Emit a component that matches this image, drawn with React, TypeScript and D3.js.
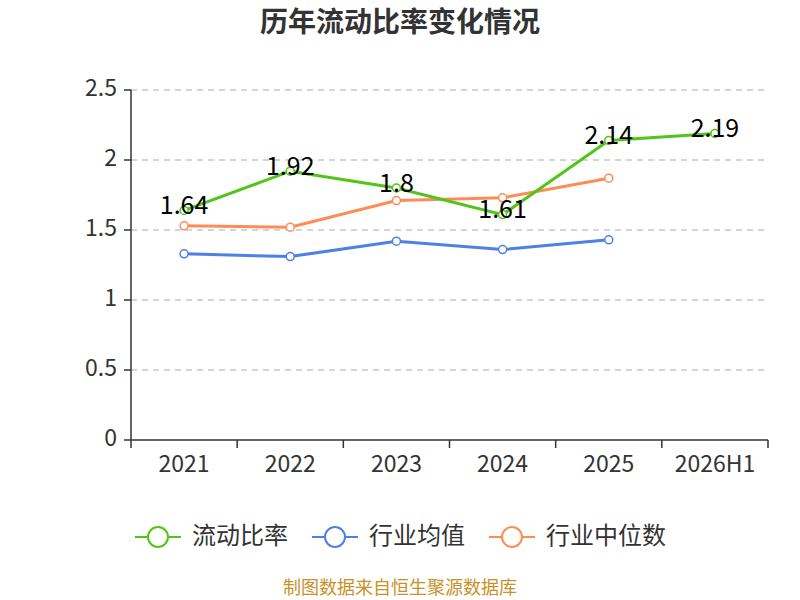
import React from "react";
import * as d3 from "d3";

const categories = ["2021", "2022", "2023", "2024", "2025", "2026H1"];
const ratio = [1.64, 1.92, 1.8, 1.61, 2.14, 2.19];
const industryMean = [1.33, 1.31, 1.42, 1.36, 1.43];
const industryMedian = [1.53, 1.52, 1.71, 1.73, 1.87];
const yTicks = [0, 0.5, 1, 1.5, 2, 2.5];

const seriesNames = ["流动比率", "行业均值", "行业中位数"];
const colors = ["#52c41a", "#4e80e6", "#ff8c55"];

const font = "'Noto Sans CJK SC', 'Noto Sans', sans-serif";

export default function App() {
  const width = 800;
  const height = 600;
  const margin = { top: 90, right: 32, bottom: 160, left: 131 };

  const x = d3
    .scaleBand<string>()
    .domain(categories)
    .range([margin.left, width - margin.right]);
  const y = d3
    .scaleLinear()
    .domain([0, 2.5])
    .range([height - margin.bottom, margin.top]);

  const line = d3
    .line<number>()
    .x((_, i) => (x(categories[i]) as number) + x.bandwidth() / 2)
    .y((d) => y(d));

  const allSeries = [ratio, industryMean, industryMedian];
  const legendX = [135, 312, 489];

  return (
    <svg
      width={width}
      height={height}
      style={{ position: "absolute", left: 0, top: 0, fontFamily: font }}
    >
      <rect width={width} height={height} fill="#fff" />
      <text
        x={width / 2}
        y={24}
        textAnchor="middle"
        dominantBaseline="middle"
        fontSize={28}
        fontWeight="bold"
        fill="#333"
      >
        历年流动比率变化情况
      </text>

      {yTicks.map((t) => (
        <g key={t}>
          {t > 0 && (
            <line
              x1={margin.left}
              x2={width - margin.right}
              y1={y(t)}
              y2={y(t)}
              stroke="#c8c8c8"
              strokeDasharray="6,5"
              strokeWidth={1.5}
            />
          )}
          <line
            x1={margin.left - 7}
            x2={margin.left}
            y1={y(t)}
            y2={y(t)}
            stroke="#333"
            strokeWidth={1.5}
          />
          <text
            x={margin.left - 14}
            y={y(t)}
            textAnchor="end"
            dominantBaseline="middle"
            fontSize={23}
            fill="#333"
          >
            {t}
          </text>
        </g>
      ))}

      <line
        x1={margin.left}
        x2={margin.left}
        y1={margin.top}
        y2={y(0)}
        stroke="#333"
        strokeWidth={1.5}
      />
      <line
        x1={margin.left}
        x2={width - margin.right}
        y1={y(0)}
        y2={y(0)}
        stroke="#333"
        strokeWidth={1.5}
      />
      {categories.map((c, i) => (
        <g key={c}>
          <line
            x1={x(c) as number}
            x2={x(c) as number}
            y1={y(0)}
            y2={y(0) + 8}
            stroke="#333"
            strokeWidth={1.5}
          />
          {i === categories.length - 1 && (
            <line
              x1={(x(c) as number) + x.bandwidth()}
              x2={(x(c) as number) + x.bandwidth()}
              y1={y(0)}
              y2={y(0) + 8}
              stroke="#333"
              strokeWidth={1.5}
            />
          )}
          <text
            x={(x(c) as number) + x.bandwidth() / 2}
            y={y(0) + 26}
            textAnchor="middle"
            dominantBaseline="middle"
            fontSize={23}
            fill="#333"
          >
            {c}
          </text>
        </g>
      ))}

      {[industryMean, industryMedian, ratio].map((s) => {
        const idx = allSeries.indexOf(s);
        return (
          <g key={idx}>
            <path
              d={line(s) as string}
              fill="none"
              stroke={colors[idx]}
              strokeWidth={3}
            />
            {s.map((v, i) => (
              <circle
                key={i}
                cx={(x(categories[i]) as number) + x.bandwidth() / 2}
                cy={y(v)}
                r={4}
                fill="#fff"
                stroke={colors[idx]}
                strokeWidth={1.5}
              />
            ))}
          </g>
        );
      })}

      {ratio.map((v, i) => (
        <text
          key={i}
          x={(x(categories[i]) as number) + x.bandwidth() / 2}
          y={y(v) - 3}
          textAnchor="middle"
          dominantBaseline="middle"
          fontSize={25}
          fill="#000"
        >
          {v}
        </text>
      ))}

      {seriesNames.map((n, i) => (
        <g key={n} transform={`translate(${legendX[i]},537)`}>
          <line x1={0} x2={46} y1={0} y2={0} stroke={colors[i]} strokeWidth={2} />
          <circle cx={23} cy={0} r={10} fill="#fff" stroke={colors[i]} strokeWidth={2} />
          <text x={57} y={0} dominantBaseline="middle" fontSize={24} fill="#333">
            {n}
          </text>
        </g>
      ))}

      <text
        x={width / 2}
        y={589}
        textAnchor="middle"
        dominantBaseline="middle"
        fontSize={18}
        fill="#c8912a"
      >
        制图数据来自恒生聚源数据库
      </text>
    </svg>
  );
}
